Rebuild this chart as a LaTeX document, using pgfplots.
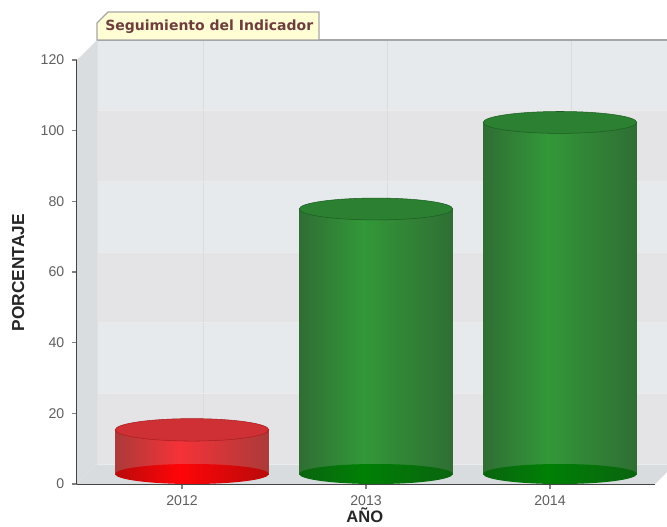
\documentclass[border=0pt]{standalone}
\usepackage{fontspec}
\setmainfont{Liberation Sans}
\newfontfamily\titlefont{DejaVu Sans}
\usepackage{pgfplots}
\pgfplotsset{compat=1.18}
\definecolor{tick}{HTML}{2F2F2F}
\definecolor{lab}{HTML}{5F5F5F}
\definecolor{bandA}{HTML}{E7EAED}
\definecolor{bandB}{HTML}{E4E4E6}
\definecolor{wall}{HTML}{D9DDE0}
\definecolor{flr}{HTML}{D9DCDF}
\definecolor{rbE}{HTML}{AC3A3A}\definecolor{rbM}{HTML}{F53237}
\definecolor{gbE}{HTML}{306E34}\definecolor{gbM}{HTML}{329838}
\definecolor{rfE}{HTML}{B90A0A}\definecolor{rfM}{HTML}{FF0508}
\definecolor{gfE}{HTML}{0A640F}\definecolor{gfM}{HTML}{008005}
\pgfdeclarehorizontalshading{redbody}{100bp}{color(0bp)=(rbE);color(25bp)=(rbE);color(46bp)=(rbM);color(75bp)=(rbE);color(100bp)=(rbE)}
\pgfdeclarehorizontalshading{greenbody}{100bp}{color(0bp)=(gbE);color(25bp)=(gbE);color(46bp)=(gbM);color(75bp)=(gbE);color(100bp)=(gbE)}
\pgfdeclarehorizontalshading{redbase}{100bp}{color(0bp)=(rfE);color(25bp)=(rfE);color(46bp)=(rfM);color(75bp)=(rfE);color(100bp)=(rfE)}
\pgfdeclarehorizontalshading{greenbase}{100bp}{color(0bp)=(gfE);color(25bp)=(gfE);color(46bp)=(gfM);color(75bp)=(gfE);color(100bp)=(gfE)}
\definecolor{redtop}{HTML}{CF3035}
\definecolor{redline}{HTML}{A81E22}
\definecolor{greentop}{HTML}{2C8032}
\definecolor{greenline}{HTML}{1C5E22}
\pgfdeclareplotmark{redcap}{\path[fill=redtop,draw=redline,line width=0.4pt] (7.5pt,7.5pt) ellipse (57.6pt and 8.4pt);}
\pgfdeclareplotmark{greencap}{\path[fill=greentop,draw=greenline,line width=0.4pt] (7.5pt,7.5pt) ellipse (57.6pt and 8.2pt);}
\pgfdeclareplotmark{redfoot}{\path[draw=none,shading=redbase] (7.5pt,7.5pt) ellipse (57.6pt and 7.5pt);}
\pgfdeclareplotmark{greenfoot}{\path[draw=none,shading=greenbase] (7.5pt,7.5pt) ellipse (57.6pt and 7.5pt);}
\begin{document}
\begin{tikzpicture}
\useasboundingbox (-57.75pt,-31.5pt) rectangle (442.5pt,363pt);
\begin{axis}[
  at={(0,0)},anchor=south west,
  scale only axis,width=433.5pt,height=318pt,
  xmin=-0.5707,xmax=2.5707,ymin=0,ymax=120,
  clip=false,
  axis x line=bottom,axis y line=left,
  axis line style={tick,line width=0.9pt,-},
  xtick={0,1,2},xticklabels={2012,2013,2014},
  ytick={0,20,40,60,80,100,120},
  tick style={tick,line width=0.8pt},
  major tick length=4pt,
  tick align=outside,
  /pgf/number format/assume math mode=true,
  ticklabel style={font=\fontsize{10.6pt}{12pt}\selectfont,text=lab},
  xticklabel style={yshift=-1.5pt},
  yticklabel style={xshift=-2pt},
  xlabel={AÑO},ylabel={PORCENTAJE},
  label style={font=\fontsize{13pt}{14pt}\selectfont\bfseries,text=black!85,inner sep=0pt},
  xlabel style={at={(axis description cs:0.498,-0.073)},anchor=center,font=\fontsize{12.4pt}{13pt}\selectfont\bfseries},
  ylabel style={at={(axis description cs:-0.102,0.498)},anchor=center},
]
\fill[wall] (axis cs:-0.5707,0) -- (axis cs:-0.5707,120) -- ([xshift=15pt,yshift=15pt]axis cs:-0.5707,120) -- ([xshift=15pt,yshift=15pt]axis cs:-0.5707,0) -- cycle;
\fill[flr] (axis cs:-0.5707,0) -- ([xshift=15pt,yshift=15pt]axis cs:-0.5707,0) -- ([xshift=15pt,yshift=15pt]axis cs:2.5707,0) -- (axis cs:2.5707,0) -- cycle;
\begin{scope}[xshift=16pt,yshift=15pt]
\fill[bandA] (axis cs:-0.5761,100) rectangle (axis cs:2.5707,120);
\fill[bandB] (axis cs:-0.5761,80) rectangle (axis cs:2.5707,100);
\fill[bandA] (axis cs:-0.5761,60) rectangle (axis cs:2.5707,80);
\fill[bandB] (axis cs:-0.5761,40) rectangle (axis cs:2.5707,60);
\fill[bandA] (axis cs:-0.5761,20) rectangle (axis cs:2.5707,40);
\fill[bandB] (axis cs:-0.5761,0) rectangle (axis cs:2.5707,20);
\foreach \v in {0,1,2}{\edef\t{\noexpand\draw[black!14,line width=0.6pt] (axis cs:\v,0) -- (axis cs:\v,120);}\t}
\foreach \v in {0,20,40,60,80,100}{\edef\t{\noexpand\draw[black!8,line width=0.6pt] (axis cs:-0.5761,\v) -- (axis cs:2.5707,\v);}\t}
\draw[black!35,line width=0.8pt] (axis cs:-0.5761,120) -- (axis cs:2.5707,120);
\draw[black!12,line width=0.6pt] (axis cs:-0.5761,0) -- (axis cs:-0.5761,120);
\end{scope}
\addplot[ybar,bar width=115.2pt,bar shift=0pt,draw=none,shading=redbody,xshift=7.5pt,yshift=7.5pt] coordinates {(0,12.5)};
\addplot[ybar,bar width=115.2pt,bar shift=0pt,draw=none,shading=greenbody,xshift=7.5pt,yshift=7.5pt] coordinates {(1,75)};
\addplot[ybar,bar width=115.2pt,bar shift=0pt,draw=none,shading=greenbody,xshift=7.5pt,yshift=7.5pt] coordinates {(2,99.5)};
\addplot[only marks,mark=redfoot] coordinates {(0,0)};
\addplot[only marks,mark=greenfoot] coordinates {(1,0) (2,0)};
\addplot[only marks,mark=redcap] coordinates {(0,12.5)};
\addplot[only marks,mark=greencap] coordinates {(1,75) (2,99.5)};
\end{axis}
\fill[fill={rgb,255:red,255;green,253;blue,212},draw=black!35,line width=0.8pt]
 (15pt,333pt) -- (15pt,345.75pt) -- (23.25pt,354pt) -- (181.5pt,354pt) -- (181.5pt,333pt) -- cycle;
\node[anchor=west,font=\titlefont\fontsize{10.5pt}{12pt}\selectfont\bfseries,text={rgb,255:red,110;green,62;blue,62},inner sep=0pt] at (21pt,343pt) {Seguimiento del Indicador};
\end{tikzpicture}
\end{document}
